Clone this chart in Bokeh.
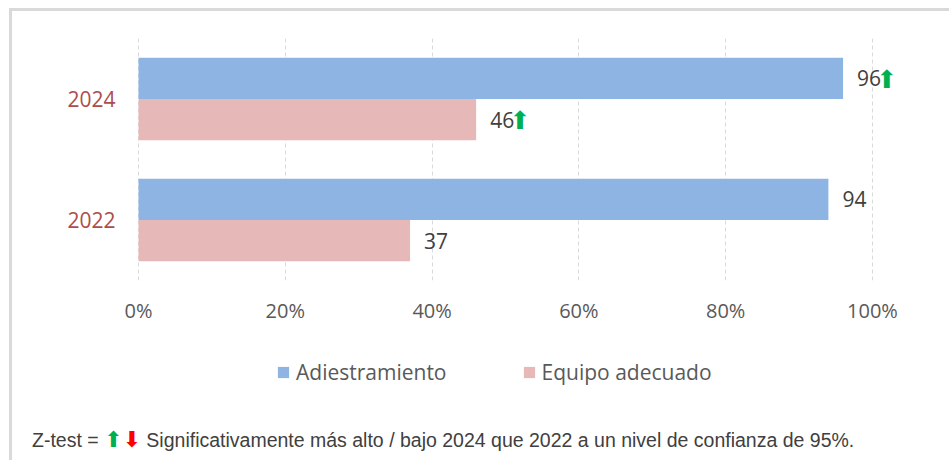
from bokeh.plotting import figure
from bokeh.layouts import column
from bokeh.models import (ColumnDataSource, FactorRange, Range1d, FixedTicker,
                          PrintfTickFormatter, Legend, LegendItem, Div)
from bokeh.transform import dodge
from bokeh.core.properties import value
from bokeh.embed import file_html
from bokeh.resources import INLINE

# ---- data ----
years = ["2022", "2024"]
adiestramiento = [94, 96]
equipo = [37, 46]
adiestramiento_sig = ["", "⬆"]
equipo_sig = ["", "⬆"]
x_ticks = [0, 20, 40, 60, 80, 100]
series_names = ["Adiestramiento", "Equipo adecuado"]
footnote_prefix = "Z-test ="
footnote_text = "Significativamente más alto / bajo 2024 que 2022 a un nivel de confianza de 95%."

FONT = "Open Sans"
C_A = "#8EB4E3"
C_E = "#E6B9B8"
GREEN = "#00B050"
RED = "#FF0000"

src = ColumnDataSource(dict(
    year=years,
    a=adiestramiento, e=equipo,
    a_lab=[str(v) for v in adiestramiento], e_lab=[str(v) for v in equipo],
    a_sig=adiestramiento_sig, e_sig=equipo_sig,
))

xr = Range1d(-0.14, 110.5)
yr = FactorRange(factors=years, range_padding=0)

p = figure(width=937, height=324, y_range=yr, x_range=xr,
           output_backend="svg", toolbar_location=None,
           min_border_left=125, min_border_right=0,
           min_border_top=27, min_border_bottom=55)
p.outline_line_color = None
p.background_fill_color = "white"
p.border_fill_color = "white"

ya = dodge("year", 0.17, range=yr)
ye = dodge("year", -0.17, range=yr)

p.hbar(y=ya, left=0, right="a", height=0.34, source=src,
       fill_color=C_A, line_color=None)
p.hbar(y=ye, left=0, right="e", height=0.34, source=src,
       fill_color=C_E, line_color=None)

lab_kw = dict(source=src, text_font=value(FONT), text_font_size="21px",
              text_color="#404040", text_baseline="middle", text_align="left",
              x_offset=14)
p.text(x="a", y=ya, text="a_lab", **lab_kw)
p.text(x="e", y=ye, text="e_lab", **lab_kw)
arr_kw = dict(source=src, text_font=value("DejaVu Sans"), text_font_size="25px",
              text_color=GREEN, text_baseline="middle", text_align="center",
              x_offset=44, y_offset=1)
p.text(x="a", y=ya, text="a_sig", **arr_kw)
p.text(x="e", y=ye, text="e_sig", **arr_kw)

# grid
p.ygrid.grid_line_color = None
p.xgrid.grid_line_color = "#d9d9d9"
p.xgrid.grid_line_dash = "4 3"
p.xgrid.ticker = FixedTicker(ticks=x_ticks)

# axes
p.xaxis.ticker = FixedTicker(ticks=x_ticks)
p.xaxis.formatter = PrintfTickFormatter(format="%d%%")
for ax in (p.xaxis, p.yaxis):
    ax.axis_line_color = None
    ax.major_tick_line_color = None
    ax.minor_tick_line_color = None
    ax.major_label_text_font = FONT
p.xaxis.major_label_text_font_size = "20px"
p.yaxis.major_label_text_font_size = "21px"
p.xaxis.major_label_text_color = "#595959"
p.xaxis.major_label_standoff = 10
p.yaxis.major_label_text_color = "#AD4D4B"
p.yaxis.major_label_standoff = 16

# ---- legend strip (own small figure sharing the ranges) ----
pl = figure(width=937, height=65, y_range=yr, x_range=xr,
            output_backend="svg", toolbar_location=None,
            x_axis_location=None, y_axis_location=None,
            min_border=0)
pl.outline_line_color = None
pl.xgrid.visible = False
pl.ygrid.visible = False
pl.background_fill_color = "white"
pl.border_fill_color = "white"
l1 = pl.hbar(y=ya, left=0, right="a", height=0.34, source=src,
             fill_color=C_A, line_color=None, visible=False)
l2 = pl.hbar(y=ye, left=0, right="e", height=0.34, source=src,
             fill_color=C_E, line_color=None, visible=False)
legend = Legend(items=[LegendItem(label=series_names[0], renderers=[l1]),
                       LegendItem(label=series_names[1], renderers=[l2])],
                orientation="horizontal", location=(139, 14),
                click_policy="none",
                border_line_color=None, background_fill_alpha=0,
                glyph_width=14, glyph_height=14, label_height=20,
                label_text_font=FONT, label_text_font_size="21px",
                label_text_color="#595959", spacing=75, padding=0, margin=0,
                label_standoff=6)
pl.add_layout(legend)

foot = Div(
    text=(f'{footnote_prefix} <span style="color:{GREEN};font-family:DejaVu Sans;font-size:22px">⬆</span>'
          f'<span style="color:{RED};font-family:DejaVu Sans;font-size:22px">⬇</span> {footnote_text}'),
    width=937, height=60,
    styles={"font-family": "'Liberation Sans Narrow', 'Arial Narrow', sans-serif",
            "font-size": "19.5px", "color": "#404040", "line-height": "20px",
            "padding-top": "25px", "padding-left": "15px",
            "box-sizing": "border-box", "white-space": "nowrap"})

layout = column(p, pl, foot, spacing=0,
                styles={"margin-left": "9px", "margin-top": "8px",
                        "border-top": "3px solid #d9d9d9",
                        "border-left": "3px solid #d9d9d9",
                        "background-color": "white"})

open("out.html", "w").write(file_html(layout, INLINE))
